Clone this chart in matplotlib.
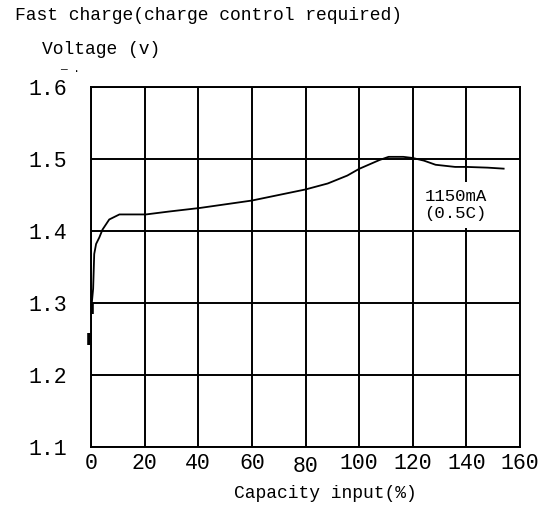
import matplotlib
matplotlib.use("Agg")
import matplotlib.pyplot as plt
import matplotlib.transforms as mtransforms

# ---- data ----
capacity = [0.3, 0.8, 1.2, 1.9, 3.1, 4.3, 6.8, 10.6, 20.5, 29, 40.6, 60, 80,
            88.3, 95.6, 100, 107.6, 111, 116.5, 120, 124.2, 128.5, 135.8,
            140, 147.9, 153.9]
voltage = [1.30, 1.32, 1.368, 1.382, 1.391, 1.402, 1.416, 1.423, 1.423, 1.427,
           1.432, 1.4423, 1.4577, 1.466, 1.477, 1.4863, 1.4986, 1.503, 1.503,
           1.5014, 1.4977, 1.492, 1.489, 1.489, 1.488, 1.4866]
start_x = [0.3, 0.3]
start_y = [1.285, 1.30]
stray_x = [-0.7, -0.7]
stray_y = [1.242, 1.258]
x_ticks = [0, 20, 40, 60, 80, 100, 120, 140, 160]
y_ticks = [1.1, 1.2, 1.3, 1.4, 1.5, 1.6]
title_text = "Fast charge(charge control required)"
ylabel_text = "Voltage (v)"
xlabel_text = "Capacity input(%)"
note_text = "1150mA\n(0.5C)"
note_x, note_y = 136, 1.436

FONT = "Liberation Mono"
plt.rcParams["font.family"] = [FONT, "DejaVu Sans Mono"]

fig = plt.figure(figsize=(5.52, 5.08), dpi=100)
ax = fig.add_axes([91/552, 1-447/508, (520-91)/552, (447-87)/508])

ax.set_xlim(0, 160)
ax.set_ylim(1.1, 1.6)
ax.set_xticks(x_ticks)
ax.set_yticks(y_ticks)
ax.set_xticklabels([str(v) for v in x_ticks])
ax.set_yticklabels([f"{v:.1f}" for v in y_ticks])
ax.tick_params(axis="both", length=0, labelsize=15.5, colors="black")
ax.tick_params(axis="x", pad=4)
ax.tick_params(axis="y", pad=17)

ax.grid(True, color="black", linewidth=1.4)
for s in ax.spines.values():
    s.set_linewidth(1.4)
    s.set_color("black")

# lower the "80" label slightly, as in the reference
lbl80 = ax.get_xticklabels()[4]
lbl80.set_transform(lbl80.get_transform() +
                    mtransforms.ScaledTranslation(0, -3/100, fig.dpi_scale_trans))

ax.plot(capacity, voltage, color="black", linewidth=1.3, zorder=3)
ax.plot(start_x, start_y, color="black", linewidth=2.6, zorder=3,
        solid_capstyle="butt")
ax.plot(stray_x, stray_y, color="black", linewidth=2.6, zorder=3,
        clip_on=False, solid_capstyle="butt")

ax.text(note_x, note_y, note_text, ha="center", va="center", fontsize=12.5,
        linespacing=1.15, zorder=4,
        bbox=dict(facecolor="white", edgecolor="none", pad=5))

fig.text(15/552, 1-15/508, title_text, fontsize=13, va="center", ha="left")
fig.text(42/552, 1-50/508, ylabel_text, fontsize=13, va="center", ha="left")
fig.text(60/552, 1-69/508, "\u2014 .", fontsize=8, va="center", ha="left")
fig.text(325/552, 1-494/508, xlabel_text, fontsize=13, va="center", ha="center")

fig.savefig("out.png", dpi=100, facecolor="white")
